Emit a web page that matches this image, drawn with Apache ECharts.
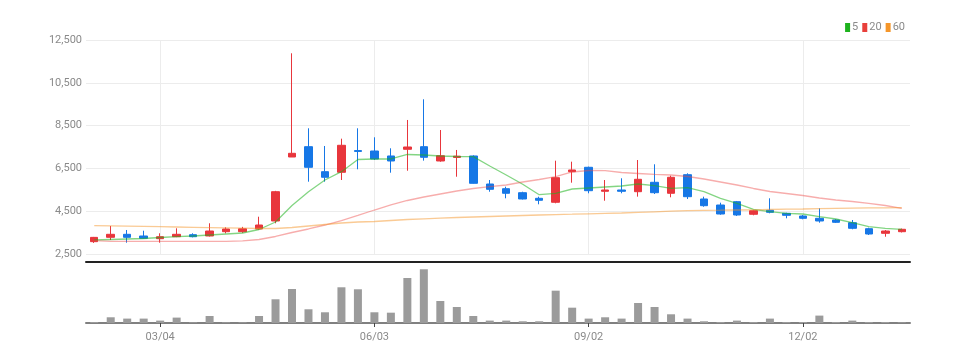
<!DOCTYPE html>
<html>
<head>
<meta charset="utf-8">
<script src="https://cdn.jsdelivr.net/npm/echarts@6/dist/echarts.min.js"></script>
<style>
html,body{margin:0;padding:0;background:#fff;}
#chart{width:968px;height:363px;}
</style>
</head>
<body>
<div id="chart"></div>
<script>
const dates = ['02/05','02/12','02/19','02/26','03/04','03/11','03/18','03/25','04/01','04/08',
  '04/15','04/22','04/29','05/06','05/13','05/20','05/27','06/03','06/10','06/17',
  '06/24','07/01','07/08','07/15','07/22','07/29','08/05','08/12','08/19','08/26',
  '09/02','09/09','09/16','09/23','09/30','10/07','10/14','10/21','10/28','11/04',
  '11/11','11/18','11/25','12/02','12/09','12/16','12/23','12/30','01/06','01/13'];
const opens  = [3090,3293,3433,3354,3228,3321,3415,3354,3555,3555,3680,4054,7040,7522,6355,6327,7340,7320,7088,7400,
  7522,6854,7020,7088,5780,5561,5375,5113,4927,6355,6560,5440,5500,5421,5860,5347,6215,5081,4800,4955,
  4367,4553,4413,4287,4180,4100,3975,3695,3480,3555];
const closes = [3290,3433,3293,3247,3321,3433,3321,3587,3680,3690,3867,5421,7213,6560,6094,7587,7300,6947,6854,7507,
  7027,7100,7080,5813,5533,5347,5081,5020,6075,6435,5468,5500,5440,6000,5375,6094,5188,4768,4380,4334,
  4535,4460,4320,4180,4054,3993,3713,3447,3587,3667];
const lows   = [3030,3167,3041,3230,3041,3300,3290,3330,3480,3500,3650,3947,7040,5888,5888,5967,6467,6900,6308,6400,
  6870,6820,6120,5800,5420,5113,5060,4833,4880,5841,5347,5000,5347,5190,5314,5160,5080,4720,4348,4290,
  4320,4413,4180,4133,3975,3960,3667,3400,3321,3520];
const highs  = [3310,3821,3634,3601,3480,3713,3480,3947,3760,3780,4254,5460,11880,8380,7554,7895,8380,7960,7447,8768,
  9733,8300,7368,7120,5967,5655,5420,5188,6868,6822,6590,5967,6047,6900,6700,6168,6280,5188,4908,4988,
  4567,5113,4440,4334,4647,4140,4100,3741,3634,3700];
const volumes = [25,143,110,110,60,135,18,175,18,18,175,593,850,343,268,893,843,268,258,1125,
  1343,550,400,175,60,60,43,43,808,383,110,143,110,500,400,218,110,43,25,60,
  25,110,25,25,185,25,60,25,25,18];
const ma5  = [3167,3190,3214,3237,3284,3321,3354,3400,3447,3494,3657,4007,4777,5421,5968,6355,6924,6948,6948,7158,
  7134,7088,7064,7055,6621,6201,5767,5281,5347,5547,5594,5641,5687,5781,5702,5580,5608,5421,5113,4880,
  4600,4488,4413,4381,4255,4147,3975,3788,3713,3667];
const ma20 = [3135,3107,3107,3107,3107,3107,3107,3107,3107,3130,3191,3331,3517,3681,3867,4077,4311,4567,4801,5011,
  5174,5314,5454,5571,5655,5734,5874,5991,6122,6341,6411,6402,6318,6271,6225,6201,6131,6014,5874,5734,
  5571,5431,5338,5244,5127,5034,4964,4880,4777,4647];
const ma60 = [3835,3825,3816,3802,3788,3774,3760,3746,3732,3718,3704,3704,3751,3821,3891,3961,4008,4031,4078,4124,
  4157,4185,4217,4241,4264,4287,4311,4334,4353,4371,4390,4409,4427,4455,4483,4511,4539,4553,4558,4567,
  4577,4591,4605,4614,4628,4642,4656,4665,4670,4675];
const yTicks = [2500,4500,6500,8500,10500,12500];
const xTickLabels = ['03/04','06/03','09/02','12/02'];

const candleData = dates.map((d,i)=>[opens[i],closes[i],lows[i],highs[i]]);
const FONT = "'Liberation Sans Narrow','Roboto','Noto Sans',sans-serif";
const showTick = (i)=> xTickLabels.indexOf(dates[i]) >= 0;

const chart = echarts.init(document.getElementById('chart'), null, {renderer:'canvas'});
chart.setOption({
  animation:false,
  backgroundColor:'#fff',
  legend:{
    right:58, top:17, icon:'rect', itemWidth:5, itemHeight:9, itemGap:4,
    textStyle:{color:'#8a8a8a', fontSize:11, fontFamily:FONT, padding:[0,0,0,-3]},
    data:['5','20','60']
  },
  grid:[
    {left:86, right:58, top:40, height:214.3},
    {left:86, right:58, top:266, bottom:40}
  ],
  xAxis:[
    {type:'category', gridIndex:0, data:dates, boundaryGap:true, offset:7,
     axisLine:{show:true, lineStyle:{color:'#222', width:2}},
     axisTick:{show:false}, axisLabel:{show:false},
     splitLine:{show:true, interval:(i)=>showTick(i), alignWithLabel:true, lineStyle:{color:'#ececec', width:1}}},
    {type:'category', gridIndex:1, data:dates, boundaryGap:true,
     axisLine:{show:true, lineStyle:{color:'#808080', width:2}},
     axisTick:{show:true, alignWithLabel:true, interval:(i)=>showTick(i), length:4, lineStyle:{color:'#444'}},
     axisLabel:{show:true, interval:(i)=>showTick(i), color:'#8a8a8a', fontSize:11, fontFamily:FONT, margin:9},
     splitLine:{show:false}}
  ],
  yAxis:[
    {type:'value', gridIndex:0, min:2500, max:12500, interval:2000, scale:true,
     axisLine:{show:false}, axisTick:{show:false},
     axisLabel:{color:'#8a8a8a', fontSize:11, fontFamily:FONT, margin:4,
       formatter:(v)=> yTicks.indexOf(v)>=0 ? v.toLocaleString('en-US') : ''},
     splitLine:{show:true, lineStyle:{color:'#ececec', width:1}}},
    {type:'value', gridIndex:1, min:0, max:1425,
     axisLine:{show:false}, axisTick:{show:false}, axisLabel:{show:false}, splitLine:{show:false}}
  ],
  series:[
    {type:'candlestick', name:'price', xAxisIndex:0, yAxisIndex:0, data:candleData, barWidth:8,
     itemStyle:{color:'#e8363c', color0:'#1677e6', borderColor:'#e8363c', borderColor0:'#1677e6', borderWidth:1}},
    {type:'line', name:'5', xAxisIndex:0, yAxisIndex:0, data:ma5, symbol:'none', smooth:false,
     itemStyle:{color:'#1db21d'}, lineStyle:{color:'#1db21d', width:1.3, opacity:0.55}, z:3},
    {type:'line', name:'20', xAxisIndex:0, yAxisIndex:0, data:ma20, symbol:'none', smooth:false,
     itemStyle:{color:'#e8403b'}, lineStyle:{color:'#ee4a48', width:1.3, opacity:0.45}, z:3},
    {type:'line', name:'60', xAxisIndex:0, yAxisIndex:0, data:ma60, symbol:'none', smooth:false,
     itemStyle:{color:'#f5962a'}, lineStyle:{color:'#f5962a', width:1.3, opacity:0.5}, z:3},
    {type:'bar', name:'volume', xAxisIndex:1, yAxisIndex:1, data:volumes, barWidth:8,
     itemStyle:{color:'#9b9b9b'}}
  ]
});
</script>
</body>
</html>
